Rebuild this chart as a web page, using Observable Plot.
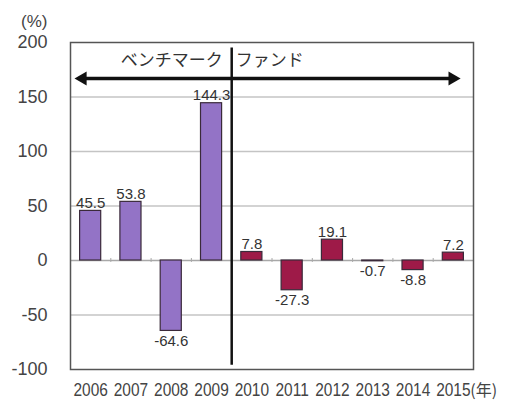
<!DOCTYPE html>
<html><head><meta charset="utf-8">
<script src="https://cdn.jsdelivr.net/npm/d3@7"></script>
<script src="https://cdn.jsdelivr.net/npm/@observablehq/plot@0.6"></script>
<style>
html,body{margin:0;padding:0;background:#fff;}
#chart{width:507px;height:401px;}
</style></head>
<body><div id="chart"></div>
<script>
const years = [2006, 2007, 2008, 2009, 2010, 2011, 2012, 2013, 2014, 2015];
const values = [45.5, 53.8, -64.6, 144.3, 7.8, -27.3, 19.1, -0.7, -8.8, 7.2];
const groups = ["ベンチマーク","ベンチマーク","ベンチマーク","ベンチマーク","ファンド","ファンド","ファンド","ファンド","ファンド","ファンド"];
const yTicks = [-100, -50, 0, 50, 100, 150, 200];
const gridTicks = [-50, 50, 100, 150];
const yUnit = "(%)";
const xUnit = "(年)";
const labelLeft = "ベンチマーク";
const labelRight = "ファンド";
const divider = 2009.5;
const arrowY = 167;
const arrowX = [2005.8, 2014.98];
const labelY = 183;

const data = years.map((y, i) => ({year: y, value: values[i], group: groups[i]}));
const bounds = years.slice(0, -1).map(y => y + 0.5);
const heads = [{x: arrowX[0], rot: -90}, {x: arrowX[1], rot: 90}];

const plot = Plot.plot({
  width: 507,
  height: 401,
  marginLeft: 70,
  marginRight: 34,
  marginTop: 42,
  marginBottom: 32,
  style: {fontFamily: "'Liberation Sans', Arial, sans-serif", background: "#fff"},
  x: {type: "linear", domain: [2005.5, 2015.5], axis: null},
  y: {domain: [-100, 200], axis: null},
  color: {domain: ["ベンチマーク", "ファンド"], range: ["#9373c6", "#9e1a48"]},
  marks: [
    Plot.ruleY(gridTicks, {stroke: "#c4c4c4", strokeWidth: 1.5}),
    Plot.ruleY([0], {stroke: "#a8a8a8", strokeWidth: 1.5}),
    Plot.ruleX(bounds, {y1: -1.8, y2: 1.8, stroke: "#a8a8a8", strokeWidth: 1}),
    Plot.rectY(data, {x1: d => d.year - 0.5, x2: d => d.year + 0.5, y: "value", fill: "group", stroke: "#3a2a3a", strokeWidth: 1.2, insetLeft: 9.6, insetRight: 9.6}),
    Plot.text(data.filter(d => d.value >= 0), {x: "year", y: "value", text: d => d.value.toFixed(1), lineAnchor: "bottom", dy: -3, fontSize: 15, fill: "#333"}),
    Plot.text(data.filter(d => d.value < 0), {x: "year", y: "value", text: d => d.value.toFixed(1), lineAnchor: "top", dy: 4, fontSize: 15, fill: "#333"}),
    Plot.frame({stroke: "#555", strokeWidth: 1.5}),
    Plot.ruleX([divider], {y1: -96, y2: 195, stroke: "#111", strokeWidth: 2.5}),
    Plot.link([{x1: arrowX[0], x2: arrowX[1]}], {x1: "x1", x2: "x2", y1: arrowY, y2: arrowY, stroke: "#111", strokeWidth: 3.5}),
    Plot.dot(heads, {x: "x", y: arrowY, symbol: "triangle", r: 5.2, rotate: "rot", fill: "#111", stroke: "none"}),
    Plot.text([labelLeft], {x: divider, y: labelY, text: d => d, textAnchor: "end", dx: -9, fontSize: 17, fill: "#333", fontFamily: "'Noto Sans CJK JP', sans-serif"}),
    Plot.text([labelRight], {x: divider, y: labelY, text: d => d, textAnchor: "start", dx: 4, fontSize: 17, fill: "#333", fontFamily: "'Noto Sans CJK JP', sans-serif"}),
    Plot.axisY(yTicks, {tickSize: 0, tickPadding: 23, fontSize: 18, fill: "#444", label: null, tickFormat: d => String(d)}),
    Plot.text([yUnit], {x: 2005.5, y: 200, dx: -23, dy: -21, text: d => d, textAnchor: "end", fontSize: 17, fill: "#444"}),
    Plot.axisX(years, {tickSize: 0, tickPadding: 14, fontSize: 18, fill: "#444", label: null, tickFormat: d => String(d)}),
    Plot.text([xUnit], {x: 2015, y: -100, text: d => d, textAnchor: "start", dx: 17, dy: 21, fontSize: 16, fill: "#444", fontFamily: "'Noto Sans CJK JP', sans-serif"})
  ]
});
// condense the x tick labels horizontally like the reference typeface
d3.select(plot).selectAll("g[aria-label='x-axis tick label'] text").each(function() {
  const t = this.getAttribute("transform") || "";
  this.setAttribute("transform", t + " scale(0.86,1)");
});
document.getElementById("chart").appendChild(plot);
</script>
</body></html>
